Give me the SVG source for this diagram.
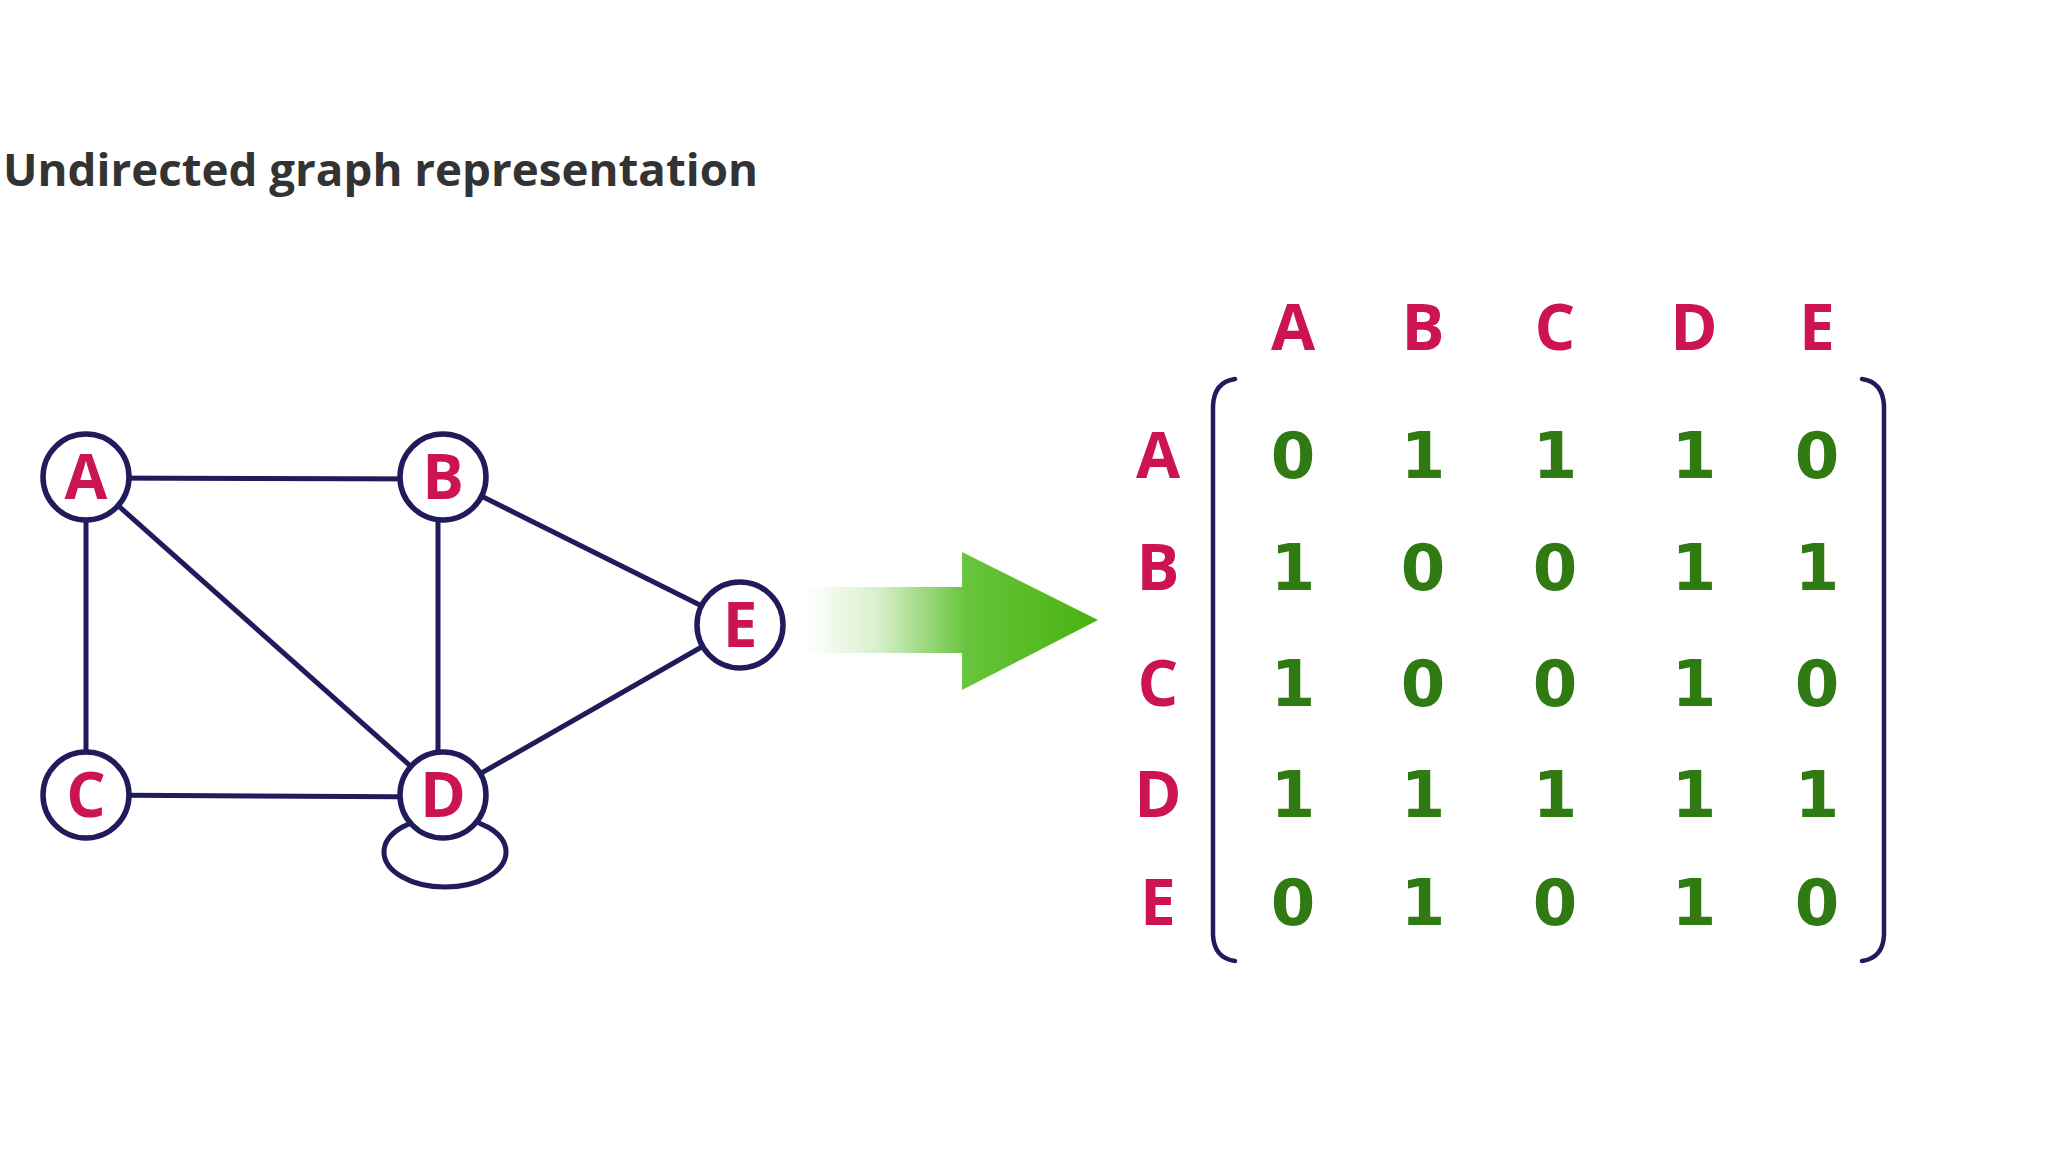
<svg xmlns="http://www.w3.org/2000/svg" width="2048" height="1152" viewBox="0 0 2048 1152">
<defs>
<linearGradient id="arrowGrad" x1="805" y1="0" x2="1098" y2="0" gradientUnits="userSpaceOnUse">
<stop offset="0" stop-color="#ffffff"/>
<stop offset="0.25" stop-color="#d8f0cc"/>
<stop offset="0.55" stop-color="#68c43c"/>
<stop offset="1" stop-color="#48b20e"/>
</linearGradient>
<style>
.title{font-family:"Open Sans","Noto Sans",sans-serif;font-weight:700;font-size:45px;fill:#333333}
.edge{stroke:#201c5c;stroke-width:5;fill:none}
.node{fill:#ffffff;stroke:#201c5c;stroke-width:5.5}
.lbl{font-family:"Open Sans","Noto Sans",sans-serif;font-weight:700;font-size:62px;fill:#cc1452;text-anchor:middle}
.hdr{font-family:"Open Sans","Noto Sans",sans-serif;font-weight:700;font-size:64px;fill:#cc1452;text-anchor:middle}
.num{font-family:"DejaVu Sans",sans-serif;font-weight:700;font-size:64px;fill:#2f7a12;text-anchor:middle}
.brk{stroke:#201c5c;stroke-width:4.5;fill:none;stroke-linecap:round}
</style>
</defs>
<rect width="2048" height="1152" fill="#ffffff"/>
<text class="title" x="3" y="186" textLength="755" lengthAdjust="spacingAndGlyphs">Undirected graph representation</text>

<g id="connectors">
<line class="edge" x1="86" y1="478" x2="443" y2="479"/>
<line class="edge" x1="86" y1="477" x2="86" y2="795"/>
<line class="edge" x1="86" y1="477" x2="443" y2="795"/>
<line class="edge" x1="438" y1="477" x2="438" y2="795"/>
<line class="edge" x1="443" y1="477" x2="740" y2="625"/>
<line class="edge" x1="86" y1="795" x2="443" y2="797"/>
<line class="edge" x1="443" y1="795" x2="740" y2="625"/>
<ellipse class="edge" cx="445" cy="852" rx="61" ry="35"/>
</g>

<g id="node-A"><circle class="node" cx="86" cy="477" r="43"/><text class="lbl" x="86" y="499">A</text></g>
<g id="node-B"><circle class="node" cx="443" cy="477" r="43"/><text class="lbl" x="443" y="499">B</text></g>
<g id="node-C"><circle class="node" cx="86" cy="795" r="43"/><text class="lbl" x="86" y="817">C</text></g>
<g id="node-D"><circle class="node" cx="443" cy="795" r="43"/><text class="lbl" x="443" y="817">D</text></g>
<g id="node-E"><circle class="node" cx="740" cy="625" r="43"/><text class="lbl" x="740" y="647">E</text></g>

<g id="arrow">
<path d="M805 587 H962 V552 L1098 620 L962 690 V653 H805 Z" fill="url(#arrowGrad)"/>
</g>

<g id="matrix">
<g id="col-headers">
<text class="hdr" x="1293" y="350">A</text>
<text class="hdr" x="1423" y="350">B</text>
<text class="hdr" x="1555" y="350">C</text>
<text class="hdr" x="1694" y="350">D</text>
<text class="hdr" x="1817" y="350">E</text>
</g>
<g id="row-headers">
<text class="hdr" x="1158" y="478">A</text>
<text class="hdr" x="1158" y="590">B</text>
<text class="hdr" x="1158" y="706">C</text>
<text class="hdr" x="1158" y="817">D</text>
<text class="hdr" x="1158" y="925">E</text>
</g>
<g id="brackets">
<path class="brk" d="M1235 379 Q1214 382 1213 406 V935 Q1214 958 1235 961"/>
<path class="brk" d="M1862 379 Q1883 382 1884 406 V935 Q1883 958 1862 961"/>
</g>
<g id="cells">
<text class="num" x="1293" y="478">0</text><text class="num" x="1423" y="478">1</text><text class="num" x="1555" y="478">1</text><text class="num" x="1694" y="478">1</text><text class="num" x="1817" y="478">0</text>
<text class="num" x="1293" y="590">1</text><text class="num" x="1423" y="590">0</text><text class="num" x="1555" y="590">0</text><text class="num" x="1694" y="590">1</text><text class="num" x="1817" y="590">1</text>
<text class="num" x="1293" y="706">1</text><text class="num" x="1423" y="706">0</text><text class="num" x="1555" y="706">0</text><text class="num" x="1694" y="706">1</text><text class="num" x="1817" y="706">0</text>
<text class="num" x="1293" y="817">1</text><text class="num" x="1423" y="817">1</text><text class="num" x="1555" y="817">1</text><text class="num" x="1694" y="817">1</text><text class="num" x="1817" y="817">1</text>
<text class="num" x="1293" y="925">0</text><text class="num" x="1423" y="925">1</text><text class="num" x="1555" y="925">0</text><text class="num" x="1694" y="925">1</text><text class="num" x="1817" y="925">0</text>
</g>
</g>
</svg>
